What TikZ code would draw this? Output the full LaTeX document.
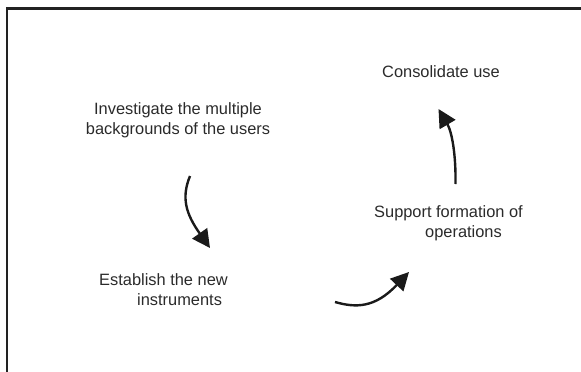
\documentclass[tikz,border=0pt]{standalone}
\usepackage{fontspec}
\setmainfont{Liberation Sans}
\usetikzlibrary{arrows.meta}
\definecolor{txt}{HTML}{2A2A2A}
\definecolor{arr}{HTML}{1A1A1A}
\definecolor{frm}{HTML}{222222}
\begin{document}
\begin{tikzpicture}[x=1pt,y=-1pt,
  lbl/.style={inner sep=0pt, font=\fontsize{16.4}{20}\selectfont, text=txt},
  flow/.style={draw=arr, line width=2.4pt, -{Triangle[length=18pt,width=18pt]}},
  frame/.style={draw=frm, line width=2.4pt}]
\useasboundingbox (0,0) rectangle (581,372);
\draw[frame] (7,390) -- (7,8.5) -- (600,8.5);
\node[lbl, align=center, anchor=base] (inv) at (178,134) {Investigate the multiple\\backgrounds of the users};
\node[lbl, anchor=base west] (cons) at (382,77) {Consolidate use};
\node[lbl, align=left, anchor=base west] (supp) at (374,237) {Support formation of\\\hspace*{51pt}operations};
\node[lbl, align=left, anchor=base west] (est) at (99,305) {Establish the new\\\hspace*{38pt}instruments};
\coordinate (a1s) at (190,176);
\coordinate (a1e) at (210,248);
\coordinate (a2s) at (335,302);
\coordinate (a2e) at (409,272);
\coordinate (a3s) at (455.5,184);
\coordinate (a3e) at (438.5,109);
\draw[flow] (a1s) .. controls (181,198) and (186,214) .. (a1e);
\draw[flow] (a2s) .. controls (356,308) and (375,308) .. (a2e);
\draw[flow] (a3s) .. controls (456,155) and (452,132) .. (a3e);
\end{tikzpicture}
\end{document}
